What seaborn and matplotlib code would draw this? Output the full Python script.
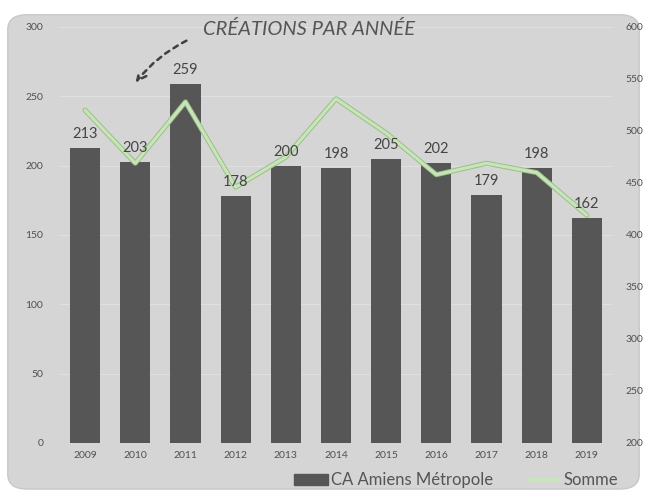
import numpy as np
import pandas as pd
import seaborn as sns
import matplotlib.pyplot as plt
import matplotlib.patheffects as pe
from matplotlib.patches import FancyBboxPatch
from matplotlib.lines import Line2D
from matplotlib.patches import Patch

years = ["2009", "2010", "2011", "2012", "2013", "2014", "2015", "2016", "2017", "2018", "2019"]
amiens = [213, 203, 259, 178, 200, 198, 205, 202, 179, 198, 162]
somme = [520, 469, 528, 446, 475, 531, 498, 458, 469, 460, 419]

df = pd.DataFrame({"annee": years, "amiens": amiens, "somme": somme})
df["pos"] = np.arange(len(df))

sns.set_style("white")
plt.rcParams['font.family'] = ['Lato', 'DejaVu Sans']

txt = "#505050"
fig = plt.figure(figsize=(6.47, 4.93), dpi=100, facecolor="white")
bg = FancyBboxPatch((0.012, 0.008), 0.976, 0.962, boxstyle="round,pad=0,rounding_size=0.03",
                    transform=fig.transFigure, facecolor="#d5d5d5", edgecolor="#c8c8c8",
                    lw=1, zorder=-10)
fig.patches.append(bg)

ax = fig.add_axes([60 / 647, 1 - 443 / 493, 552 / 647, 416 / 493])
ax.set_facecolor("none")
sns.barplot(data=df, x="pos", y="amiens", color="#565656", width=0.6,
            saturation=1, linewidth=0, ax=ax, zorder=2)
ax.set_ylim(0, 300)
ax.set_xlim(-0.5, len(years) - 0.5)
ax.set_yticks(range(0, 301, 50))
ax.yaxis.grid(True, color="#e0e0e0", lw=0.8)
ax.set_axisbelow(True)
ax.set_xticks(df["pos"])
ax.set_xticklabels(years)
ax.set_xlabel("")
ax.set_ylabel("")
ax.tick_params(axis="both", length=0, labelsize=7.5, colors=txt)
ax.tick_params(axis="y", pad=12)
ax.tick_params(axis="x", pad=6)
for s in ax.spines.values():
    s.set_visible(False)

ax2 = ax.twinx()
sns.lineplot(data=df, x="pos", y="somme", color="#c9e4bb", lw=2.2, ax=ax2, zorder=5,
             path_effects=[pe.Stroke(linewidth=3.6, foreground="#98c084"), pe.Normal()])
ax2.set_ylim(200, 600)
ax2.set_yticks(range(200, 601, 50))
ax2.set_ylabel("")
ax2.tick_params(axis="y", length=0, labelsize=7.5, colors=txt, pad=10)
for s in ax2.spines.values():
    s.set_visible(False)

# labels drawn on the top axes so they sit over the line
for p, v in zip(df["pos"], df["amiens"]):
    ax2.annotate(str(v), (p, v), xycoords=ax.transData, xytext=(0, 5),
                 textcoords="offset points", ha="center", va="bottom",
                 fontsize=10.5, color="#454545", zorder=6)

fig.text(0.477, 0.942, "CRÉATIONS PAR ANNÉE", fontsize=14.5, style="italic",
         color="#555555", ha="center", va="center")
ax2.annotate("", xy=(0.207, 0.828), xytext=(0.292, 0.92), xycoords="figure fraction",
             textcoords="figure fraction",
             arrowprops=dict(arrowstyle="->", color="#404040", lw=1.8, linestyle=(0, (2, 2)),
                             connectionstyle="arc3,rad=0.12", mutation_scale=16))

handles = [Patch(color="#565656"), Line2D([], [], color="#c9e4bb", lw=3)]
fig.legend(handles, ["CA Amiens Métropole", "Somme"], loc="center",
           bbox_to_anchor=(0.705, 0.026), ncol=2, frameon=False, fontsize=12,
           labelcolor="#555555", handlelength=2.0, handleheight=0.6,
           handletextpad=0.2, columnspacing=2.0)

fig.savefig("out.png", dpi=100, facecolor="white")
